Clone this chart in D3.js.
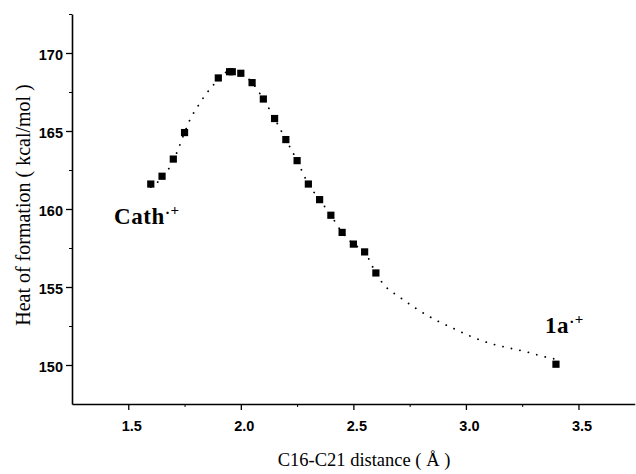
<!DOCTYPE html>
<html>
<head>
<meta charset="utf-8">
<script src="https://cdn.jsdelivr.net/npm/d3@7"></script>
<style>
  body { margin: 0; background: #fff; }
  svg { display: block; }
  .tick text { font-family: "Liberation Sans", Arial, sans-serif; font-weight: bold; font-size: 14.5px; }
  .lbl { font-family: "Liberation Serif", "Times New Roman", serif; fill: #000; }
</style>
</head>
<body>
<div id="chart"></div>
<script>
// computed points (C16-C21 distance in Å, heat of formation in kcal/mol)
const distance = [1.60, 1.65, 1.70, 1.75, 1.90, 1.95, 1.962, 2.00, 2.05, 2.10, 2.15, 2.20,
    2.25, 2.30, 2.35, 2.40, 2.45, 2.50, 2.55, 2.60, 3.40]
const heat = [161.6, 162.1, 163.2, 164.9, 168.4, 168.8, 168.8, 168.7, 168.1, 167.05, 165.8, 164.45,
    163.1, 161.6, 160.6, 159.6, 158.5, 157.75, 157.25, 155.9, 150.05]

// dotted guide curve, read along the dots of the picture
const fitX = [1.60, 1.65, 1.70, 1.75, 1.77, 1.814, 1.844, 1.878, 1.90, 1.95, 2.00, 2.05, 2.10, 2.15, 2.20,
    2.25, 2.30, 2.35, 2.40, 2.45, 2.50, 2.55, 2.60, 2.628, 2.707, 2.784, 2.866, 2.944,
    3.026, 3.107, 3.186, 3.267, 3.348, 3.39]
const fitY = [161.4, 162.0, 163.1, 164.9, 165.6, 166.7, 167.35, 167.95, 168.4, 168.8, 168.7, 168.1, 167.05, 165.8, 164.45,
    163.1, 161.6, 160.6, 159.6, 158.5, 157.75, 157.25, 155.9, 155.28, 154.34, 153.57, 152.88, 152.35,
    151.81, 151.39, 151.11, 150.85, 150.53, 150.4]

const xMajor = [1.5, 2.0, 2.5, 3.0, 3.5]
const xMinor = [1.75, 2.25, 2.75, 3.25]
const yMajor = [150, 155, 160, 165, 170]
const yMinor = [152.5, 157.5, 162.5, 167.5, 172.5]

const width = 636
const height = 474

const svg = d3.select("#chart").append("svg")
    .attr("width", width)
    .attr("height", height)

const x = d3.scaleLinear().domain([1.25, 3.75]).range([72, 634.75])
const y = d3.scaleLinear().domain([147.5, 172.5]).range([404, 14])

// x axis
const gx = svg.append("g").attr("transform", "translate(0,404)")
gx.call(d3.axisBottom(x).tickValues(xMajor).tickFormat(d3.format(".1f")).tickSize(6).tickSizeOuter(0))
gx.call(g => g.select(".domain").attr("stroke-width", 1.6))
gx.selectAll(".tick line").attr("stroke-width", 1.3)
gx.selectAll(".tick text").attr("y", 12).attr("dy", "1.05em").attr("dx", 3)
svg.append("g").attr("transform", "translate(0,404)")
    .call(d3.axisBottom(x).tickValues(xMinor).tickFormat("").tickSize(3))
    .call(g => g.select(".domain").remove())

// y axis
const gy = svg.append("g").attr("transform", "translate(72,0)")
gy.call(d3.axisLeft(y).tickValues(yMajor).tickFormat(d3.format("d")).tickSize(6).tickSizeOuter(0))
gy.call(g => g.select(".domain").attr("stroke-width", 1.6))
gy.selectAll(".tick line").attr("stroke-width", 1.3)
gy.selectAll(".tick text").attr("x", -9).attr("dy", "0.45em")
svg.append("g").attr("transform", "translate(72,0)")
    .call(d3.axisLeft(y).tickValues(yMinor).tickFormat("").tickSize(3))
    .call(g => g.select(".domain").remove())

// dotted curve
const line = d3.line()
    .x((d, i) => x(fitX[i]))
    .y((d, i) => y(fitY[i]))
    .curve(d3.curveMonotoneX)

svg.append("path")
    .datum(fitX)
    .attr("d", line)
    .attr("fill", "none")
    .attr("stroke", "#000")
    .attr("stroke-width", 1.8)
    .attr("stroke-linecap", "round")
    .attr("stroke-dasharray", "0.1,8.6")

// squares
const sq = 7.2
svg.append("g").selectAll("rect")
    .data(distance)
    .join("rect")
    .attr("x", (d) => x(d) - sq / 2)
    .attr("y", (d, i) => y(heat[i]) - sq / 2)
    .attr("width", sq)
    .attr("height", sq)
    .attr("fill", "#000")

// annotations
function species(px, py, name) {
    const t = svg.append("text").attr("class", "lbl")
        .attr("x", px).attr("y", py)
        .attr("font-size", 23).attr("font-weight", "bold")
        .attr("letter-spacing", 0.6)
    t.append("tspan").text(name)
    t.append("tspan").attr("dy", -6).attr("font-size", 15).text("·")
    t.append("tspan").attr("dy", -3).attr("font-size", 15).text("+")
}
species(114, 224, "Cath")
species(545, 333, "1a")

// axis titles
svg.append("text").attr("class", "lbl")
    .attr("x", 364).attr("y", 466)
    .attr("text-anchor", "middle")
    .attr("font-size", 18.5)
    .text("C16-C21 distance ( Å )")

svg.append("text").attr("class", "lbl")
    .attr("transform", "translate(30,205) rotate(-90)")
    .attr("text-anchor", "middle")
    .attr("font-size", 20)
    .text("Heat of formation ( kcal/mol )")
</script>
</body>
</html>
